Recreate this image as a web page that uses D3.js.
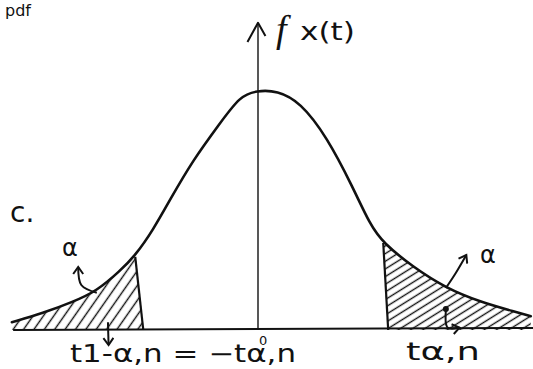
<!DOCTYPE html>
<html>
<head>
<meta charset="utf-8">
<script src="https://cdn.jsdelivr.net/npm/d3@7"></script>
<style>
  body { margin: 0; background: #fff; }
  text { font-family: "DejaVu Sans", sans-serif; fill: #111; }
</style>
</head>
<body>
<div id="chart"></div>
<script>
var svgWidth = 533;
var svgHeight = 369;

// density curve (t, f(t))
var curveT = [-3.97, -3.47, -2.98, -2.60, -2.23, -1.98, -1.69, -1.42, -1.05, -0.61, -0.29, -0.02,
  0.31, 0.68, 1.11, 1.53, 1.81, 2.02, 2.50, 3.03, 3.58, 4.16, 4.40];
var curveF = [0.013, 0.028, 0.047, 0.065, 0.098, 0.124, 0.167, 0.217, 0.283, 0.345, 0.390, 0.399,
  0.399, 0.380, 0.322, 0.238, 0.175, 0.145, 0.105, 0.070, 0.047, 0.030, 0.023];

// critical lines: t at the curve, t at the baseline, height at the curve
var critTopT = [-1.98, 2.02];
var critBotT = [-1.85, 2.10];
var critTopF = [0.122, 0.145];

var labels = ["t1-\u03b1,n = \u2212t\u03b1,n", "t\u03b1,n"];

var data = curveT.map((t, i) => ({ t: t, f: curveF[i] }));

var x = d3.scaleLinear().domain([0, 1]).range([258, 320]);   // 62px per unit of t
var y = d3.scaleLinear().domain([0, 0.5]).range([330, 30]);

var svg = d3.select("#chart")
  .append("svg")
  .attr("width", svgWidth)
  .attr("height", svgHeight);

var defs = svg.append("defs");

// hatching patterns, steeper on the left tail
function hatch(id, angle, gap) {
  var p = defs.append("pattern")
    .attr("id", id)
    .attr("patternUnits", "userSpaceOnUse")
    .attr("width", 40)
    .attr("height", gap)
    .attr("patternTransform", `rotate(${-angle})`);
  p.append("line")
    .attr("x1", 0).attr("y1", gap / 2)
    .attr("x2", 40).attr("y2", gap / 2)
    .attr("stroke", "#111")
    .attr("stroke-width", 1.4);
}
hatch("hatchL", 55, 8.5);
hatch("hatchR", 32, 6.5);

// clip regions for the two tails
defs.append("clipPath").attr("id", "clipL")
  .append("polygon")
  .attr("points", [
    [0, y(critTopF[0]) - 2], [x(critTopT[0]), y(critTopF[0]) - 2],
    [x(critBotT[0]), y(0)], [0, y(0)]
  ].join(" "));
defs.append("clipPath").attr("id", "clipR")
  .append("polygon")
  .attr("points", [
    [x(critTopT[1]), y(critTopF[1]) - 2], [svgWidth, y(critTopF[1]) - 2],
    [svgWidth, y(0)], [x(critBotT[1]), y(0)]
  ].join(" "));

var area = d3.area()
  .x(d => x(d.t))
  .y0(y(0))
  .y1(d => y(d.f))
  .curve(d3.curveBasis);

svg.append("path").datum(data)
  .attr("d", area)
  .attr("fill", "url(#hatchL)")
  .attr("clip-path", "url(#clipL)");
svg.append("path").datum(data)
  .attr("d", area)
  .attr("fill", "url(#hatchR)")
  .attr("clip-path", "url(#clipR)");

// baseline
svg.append("line")
  .attr("x1", x(-3.95)).attr("y1", y(0))
  .attr("x2", svgWidth).attr("y2", y(0) - 2)
  .attr("stroke", "#111").attr("stroke-width", 2);

// vertical axis with arrow
svg.append("line")
  .attr("x1", x(0)).attr("y1", y(0))
  .attr("x2", x(0)).attr("y2", y(0.512))
  .attr("stroke", "#111").attr("stroke-width", 1.4);
svg.append("path")
  .attr("d", `M${x(-0.17)},${y(0.48)} L${x(0)},${y(0.512)} L${x(0.12)},${y(0.49)}`)
  .attr("fill", "none").attr("stroke", "#111").attr("stroke-width", 2)
  .attr("stroke-linejoin", "round");

// density curve
var line = d3.line()
  .x(d => x(d.t))
  .y(d => y(d.f))
  .curve(d3.curveBasis);
svg.append("path").datum(data)
  .attr("d", line)
  .attr("fill", "none")
  .attr("stroke", "#111")
  .attr("stroke-width", 2.6)
  .attr("stroke-linecap", "round");

// critical value lines
critTopT.forEach(function (t, i) {
  svg.append("line")
    .attr("x1", x(t)).attr("y1", y(critTopF[i]))
    .attr("x2", x(critBotT[i])).attr("y2", y(0))
    .attr("stroke", "#111").attr("stroke-width", 2.2);
});

// arrow marker (open chevron)
defs.append("marker")
  .attr("id", "arr")
  .attr("viewBox", "-8 -6 10 12")
  .attr("markerUnits", "userSpaceOnUse")
  .attr("markerWidth", 10).attr("markerHeight", 12)
  .attr("orient", "auto")
  .append("path")
  .attr("d", "M-7,-5 L0,0 L-7,5")
  .attr("fill", "none").attr("stroke", "#111").attr("stroke-width", 2);

function arrow(pts) {
  var p = pts.map(d => [x(d[0]), y(d[1])]);
  svg.append("path")
    .attr("d", d3.line().curve(d3.curveNatural)(p))
    .attr("fill", "none").attr("stroke", "#111").attr("stroke-width", 2)
    .attr("marker-end", "url(#arr)");
}
// alpha pointers
arrow([[-2.60, 0.062], [-2.85, 0.075], [-2.90, 0.105]]);
arrow([[3.03, 0.070], [3.19, 0.095], [3.36, 0.125]]);
// pointers down to the critical values
arrow([[-2.42, 0.013], [-2.41, -0.025]]);
arrow([[3.03, 0.033], [3.05, 0.005], [3.25, 0.004]]);
svg.append("circle")
  .attr("cx", x(3.03)).attr("cy", y(0.035)).attr("r", 3).attr("fill", "#111");

// texts
svg.append("text").attr("x", 5).attr("y", 16).attr("font-size", 16).text("pdf");
svg.append("text").attr("x", 10).attr("y", 222).attr("font-size", 28).text("c.");

svg.append("text")
  .attr("x", 276).attr("y", 42)
  .attr("font-size", 38)
  .attr("font-style", "italic")
  .style("font-family", "'Liberation Serif', serif")
  .text("f");
svg.append("text")
  .attr("x", 300).attr("y", 40)
  .attr("font-size", 24)
  .attr("textLength", 55).attr("lengthAdjust", "spacingAndGlyphs")
  .text("x(t)");

svg.append("text").attr("x", 62).attr("y", 256).attr("font-size", 24).text("\u03b1");
svg.append("text").attr("x", 480).attr("y", 263).attr("font-size", 24).text("\u03b1");

svg.append("text").attr("x", 259).attr("y", 345).attr("font-size", 13).text("0");

svg.append("text")
  .attr("x", 70).attr("y", 362)
  .attr("font-size", 24)
  .attr("textLength", 226).attr("lengthAdjust", "spacingAndGlyphs")
  .text(labels[0]);
svg.append("text")
  .attr("x", 406).attr("y", 360)
  .attr("font-size", 24)
  .attr("textLength", 74).attr("lengthAdjust", "spacingAndGlyphs")
  .text(labels[1]);
</script>
</body>
</html>
